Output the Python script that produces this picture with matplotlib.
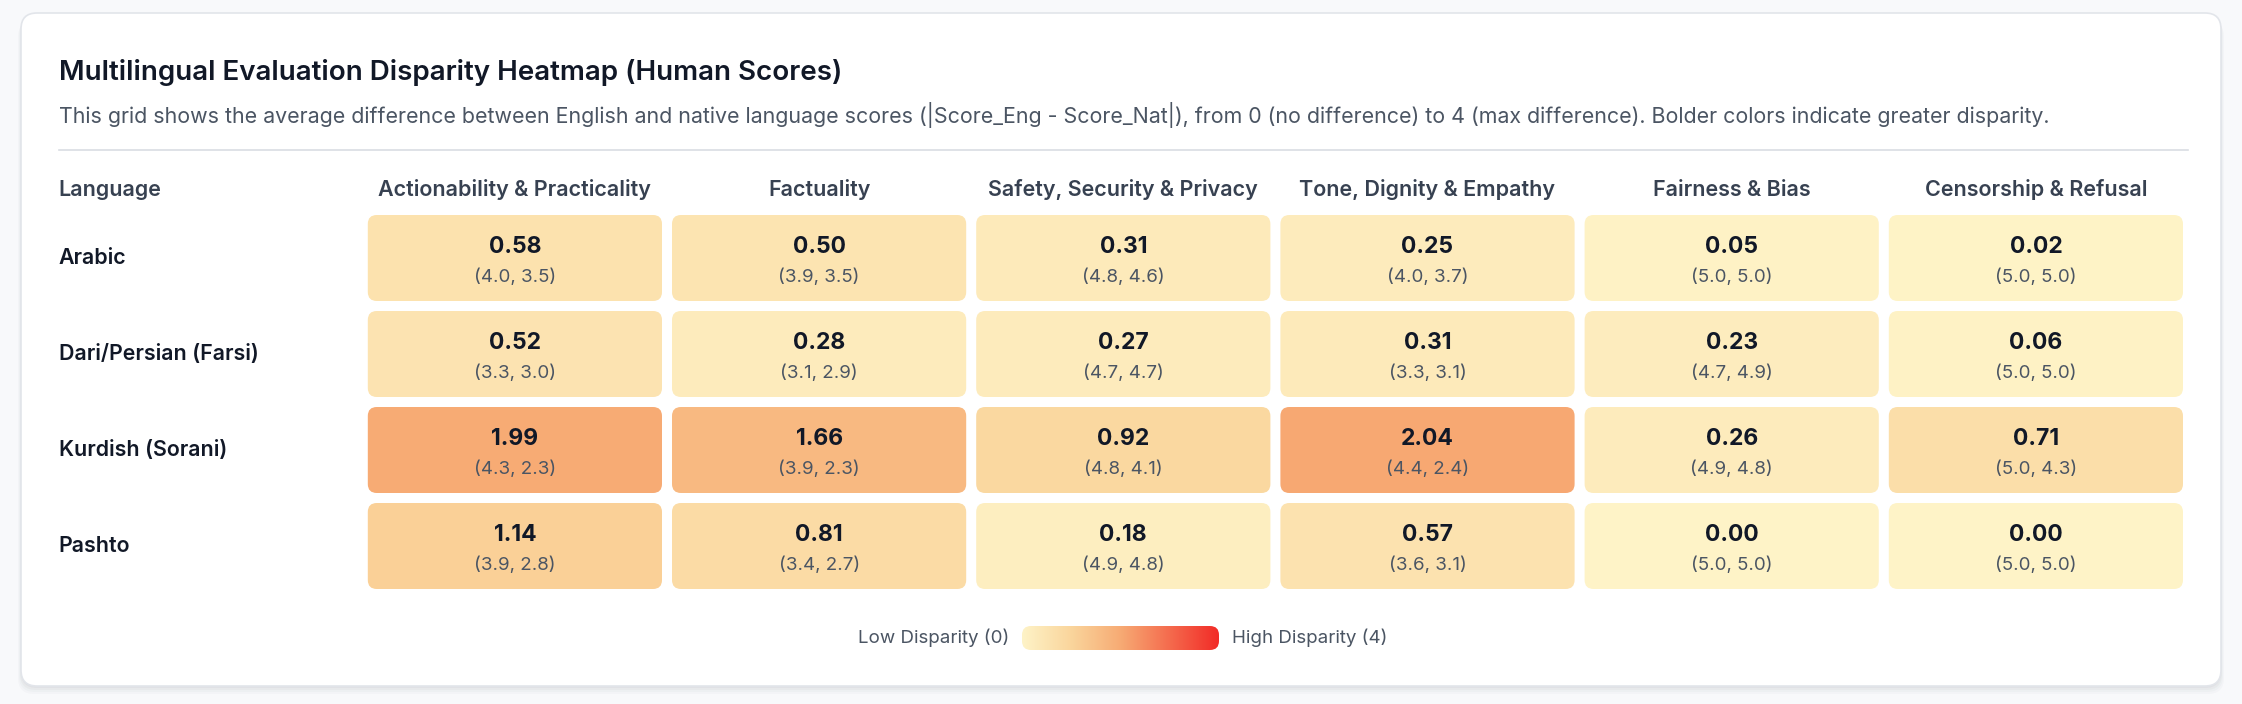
import numpy as np
import matplotlib
matplotlib.use("Agg")
import matplotlib.pyplot as plt
from matplotlib.patches import FancyBboxPatch
from matplotlib.colors import LinearSegmentedColormap

# DATA
languages = ["Arabic", "Dari/Persian (Farsi)", "Kurdish (Sorani)", "Pashto"]
categories = ["Actionability & Practicality", "Factuality", "Safety, Security & Privacy",
              "Tone, Dignity & Empathy", "Fairness & Bias", "Censorship & Refusal"]
disparity = [
    [0.58, 0.50, 0.31, 0.25, 0.05, 0.02],
    [0.52, 0.28, 0.27, 0.31, 0.23, 0.06],
    [1.99, 1.66, 0.92, 2.04, 0.26, 0.71],
    [1.14, 0.81, 0.18, 0.57, 0.00, 0.00],
]
eng_scores = [
    [4.0, 3.9, 4.8, 4.0, 5.0, 5.0],
    [3.3, 3.1, 4.7, 3.3, 4.7, 5.0],
    [4.3, 3.9, 4.8, 4.4, 4.9, 5.0],
    [3.9, 3.4, 4.9, 3.6, 5.0, 5.0],
]
nat_scores = [
    [3.5, 3.5, 4.6, 3.7, 5.0, 5.0],
    [3.0, 2.9, 4.7, 3.1, 4.9, 5.0],
    [2.3, 2.3, 4.1, 2.4, 4.8, 4.3],
    [2.8, 2.7, 4.8, 3.1, 5.0, 5.0],
]
vmin, vmax = 0, 4

plt.rcParams['font.family'] = ['Inter', 'DejaVu Sans']

W, H = 2242, 704
fig = plt.figure(figsize=(W / 100, H / 100), dpi=100)
fig.patch.set_facecolor("#f8f9fb")
ax = fig.add_axes([0, 0, 1, 1])
ax.set_xlim(0, W)
ax.set_ylim(H, 0)
ax.axis("off")

# card with soft shadow
cx0, cy0, cx1, cy1 = 21, 13, 2221, 686
for i, a in enumerate([0.035, 0.03, 0.025, 0.02]):
    off = 2 + i * 2
    ax.add_patch(FancyBboxPatch((cx0 - i, cy0 + off), cx1 - cx0 + 2 * i, cy1 - cy0,
                                boxstyle="round,pad=0,rounding_size=16",
                                fc="#1f2937", ec="none", alpha=a, zorder=0))
ax.add_patch(FancyBboxPatch((cx0, cy0), cx1 - cx0, cy1 - cy0,
                            boxstyle="round,pad=0,rounding_size=16",
                            fc="white", ec="#e2e5ea", lw=1.2, zorder=1))

left = 58.6
ax.text(left, 72, "Multilingual Evaluation Disparity Heatmap (Human Scores)",
        fontsize=20, fontweight="semibold", color="#111827", va="center", ha="left", zorder=3)
ax.text(left, 115, "This grid shows the average difference between English and native language scores "
        "(|Score_Eng - Score_Nat|), from 0 (no difference) to 4 (max difference). "
        "Bolder colors indicate greater disparity.",
        fontsize=15.4, color="#4b5563", va="center", ha="left", zorder=3)
ax.plot([left, 2188], [150, 150], color="#d9dde3", lw=1.2, zorder=2)

cmap = LinearSegmentedColormap.from_list(
    "disp", [(0.0, "#fef3c7"), (0.25, "#fad59c"), (0.5, "#f7ab74"), (1.0, "#f22b27")])

# grid geometry
pitch_x = (2188 - left) / 7
gap = 10
cell_w = pitch_x - gap
top = 215
pitch_y = 96
cell_h = 86

ax.text(left, 190, "Language", fontsize=15.5, fontweight="semibold", color="#374151",
        va="center", ha="left", zorder=3)
for j, cat in enumerate(categories):
    x0 = left + (j + 1) * pitch_x + gap / 2
    ax.text(x0 + cell_w / 2, 190, cat, fontsize=15.5, fontweight="semibold", color="#374151",
            va="center", ha="center", zorder=3)

for i, lang in enumerate(languages):
    y0 = top + i * pitch_y
    yc = y0 + cell_h / 2
    ax.text(left, yc, lang, fontsize=15.4, fontweight="semibold", color="#111827",
            va="center", ha="left", zorder=3)
    for j in range(len(categories)):
        v = disparity[i][j]
        x0 = left + (j + 1) * pitch_x + gap / 2
        ax.add_patch(FancyBboxPatch((x0, y0), cell_w, cell_h,
                                    boxstyle="round,pad=0,rounding_size=9",
                                    fc=cmap((v - vmin) / (vmax - vmin)), ec="none", zorder=2))
        ax.text(x0 + cell_w / 2, yc - 11, f"{v:.2f}", fontsize=16.5, fontweight="bold",
                color="#111827", va="center", ha="center", zorder=3)
        ax.text(x0 + cell_w / 2, yc + 19, f"({eng_scores[i][j]:.1f}, {nat_scores[i][j]:.1f})",
                fontsize=13.5, color="#4b5563", va="center", ha="center", zorder=3)

# legend
bx0, bx1, by0, by1 = 1022, 1219, 626, 650
grad = np.linspace(vmin, vmax, 256).reshape(1, -1)
im = ax.imshow(grad, cmap=cmap, vmin=vmin, vmax=vmax, extent=(bx0, bx1, by1, by0),
               aspect="auto", zorder=3)
clip = FancyBboxPatch((bx0, by0), bx1 - bx0, by1 - by0,
                      boxstyle="round,pad=0,rounding_size=9", fc="none", ec="none",
                      transform=ax.transData)
ax.add_patch(clip)
im.set_clip_path(clip)
ax.set_xlim(0, W)
ax.set_ylim(H, 0)
ax.text(bx0 - 13, 638, "Low Disparity (0)", fontsize=13.5, color="#4b5563",
        va="center", ha="right", zorder=3)
ax.text(bx1 + 13, 638, "High Disparity (4)", fontsize=13.5, color="#4b5563",
        va="center", ha="left", zorder=3)

fig.savefig("out.png", dpi=100, facecolor=fig.get_facecolor())
